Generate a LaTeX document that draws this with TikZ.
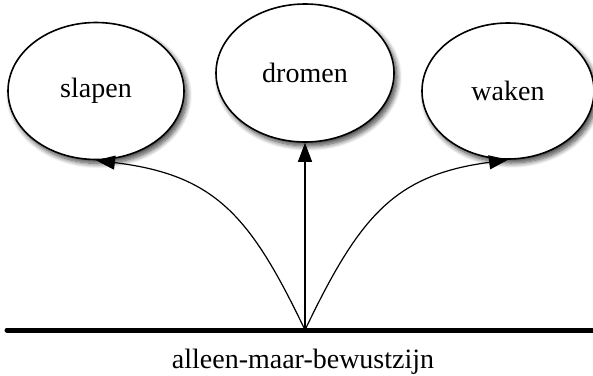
\documentclass[tikz,border=0pt]{standalone}
\usepackage{fontspec}
\setmainfont{Liberation Serif}
\usepackage{tikz}
\usetikzlibrary{shapes.geometric, arrows.meta, shadows.blur}
\tikzset{>={Triangle[length=19pt,width=14pt]}}

\begin{document}
\begin{tikzpicture}[x=1pt,y=-1pt,
  every node/.style={font=\fontsize{28}{32}\selectfont},
  staat/.style={ellipse, draw, line width=1.6pt, fill=white, inner sep=0pt,
    blur shadow={shadow xshift=3pt, shadow yshift=-4pt, shadow blur radius=5pt, shadow blur steps=10, shadow opacity=75}},
  pijl/.style={->, line width=1.2pt}]
\useasboundingbox (0,0) rectangle (593,375);
  \node[staat, minimum width=176pt, minimum height=137pt] (slapen) at (96,91) {slapen};
  \node[staat, minimum width=178pt, minimum height=138pt] (dromen) at (305,73) {dromen};
  \node[staat, minimum width=172pt, minimum height=136pt] (waken) at (508,91) {waken};
  \coordinate (links) at (7,330);
  \coordinate (rechts) at (600,330);
  \coordinate (bron) at (305,330);
  \draw[line width=5pt, line cap=round] (links) -- (rechts);
  \node[anchor=base] (bewustzijn) at (303,368) {alleen-maar-bewustzijn};
  \draw[pijl] (bron) .. controls (250,215) and (215,175) .. (slapen.south);
  \draw[pijl] (bron) -- (dromen.south);
  \draw[pijl] (bron) .. controls (360,215) and (395,175) .. (waken.south);
\end{tikzpicture}
\end{document}
